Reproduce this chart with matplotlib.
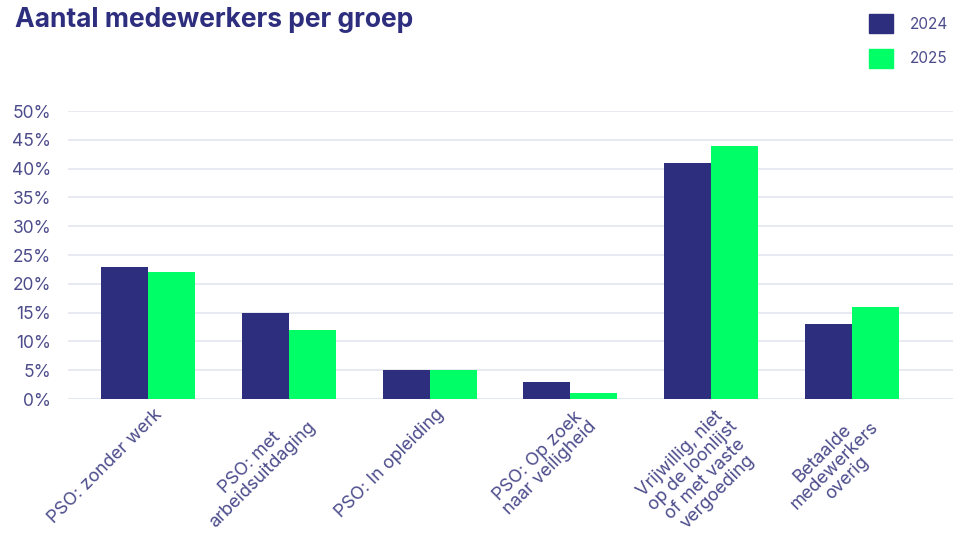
import matplotlib.pyplot as plt
import numpy as np
from matplotlib.patches import Patch

categories = ["PSO: zonder werk", "PSO: met\narbeidsuitdaging", "PSO: In opleiding",
              "PSO: Op zoek\nnaar veiligheid", "Vrijwillig, niet\nop de loonlijst\nof met vaste\nvergoeding",
              "Betaalde\nmedewerkers\noverig"]
values_2024 = [23, 15, 5, 3, 41, 13]
values_2025 = [22, 12, 5, 1, 44, 16]
series_labels = ["2024", "2025"]

navy = "#2e2e7e"
green = "#00ff66"
text_col = "#4c4c8c"
grid_col = "#e3e8ef"

plt.rcParams['font.family'] = ['Inter', 'DejaVu Sans']

fig = plt.figure(figsize=(9.63, 5.44), dpi=100)
ax = fig.add_axes([68 / 963, 145 / 544, 885 / 963, 288 / 544])

x = np.arange(len(categories))
w = 0.334
ax.bar(x - w / 2, values_2024, width=w, color=navy, zorder=3)
ax.bar(x + w / 2, values_2025, width=w, color=green, zorder=3)

ax.set_xlim(-0.57, 5.72)
ax.set_ylim(0, 50)
ax.set_yticks(np.arange(0, 51, 5))
ax.set_yticklabels([f"{v}%" for v in range(0, 51, 5)], fontsize=12.5, color=text_col)
ax.yaxis.grid(True, color=grid_col, linewidth=1.2, zorder=0)
ax.tick_params(axis='y', length=0, pad=12)
ax.tick_params(axis='x', length=0)
for s in ax.spines.values():
    s.set_visible(False)
ax.axhline(0, color=grid_col, linewidth=1.5, zorder=2)

ax.set_xticks(x)
ax.set_xticklabels([])
for xi, lab in zip(x, categories):
    ax.annotate(lab, xy=(xi, 0), xycoords='data', xytext=(4, -5), textcoords='offset points',
                rotation=45, rotation_mode='anchor', ha='right', va='top',
                multialignment='center', fontsize=13, color=text_col, linespacing=1.05)

fig.text(15 / 963, 1 - 20 / 544, "Aantal medewerkers per groep", fontsize=19,
         fontweight='bold', color=navy, va='center', ha='left')

handles = [Patch(color=navy), Patch(color=green)]
fig.legend(handles, series_labels, loc='upper right', bbox_to_anchor=(962 / 963, 1.0),
           frameon=False, labelcolor=text_col, handlelength=1.6,
           handleheight=1.6, labelspacing=1.0, handletextpad=1.1,
           prop={'size': 11})

fig.savefig("out.png", dpi=100)
